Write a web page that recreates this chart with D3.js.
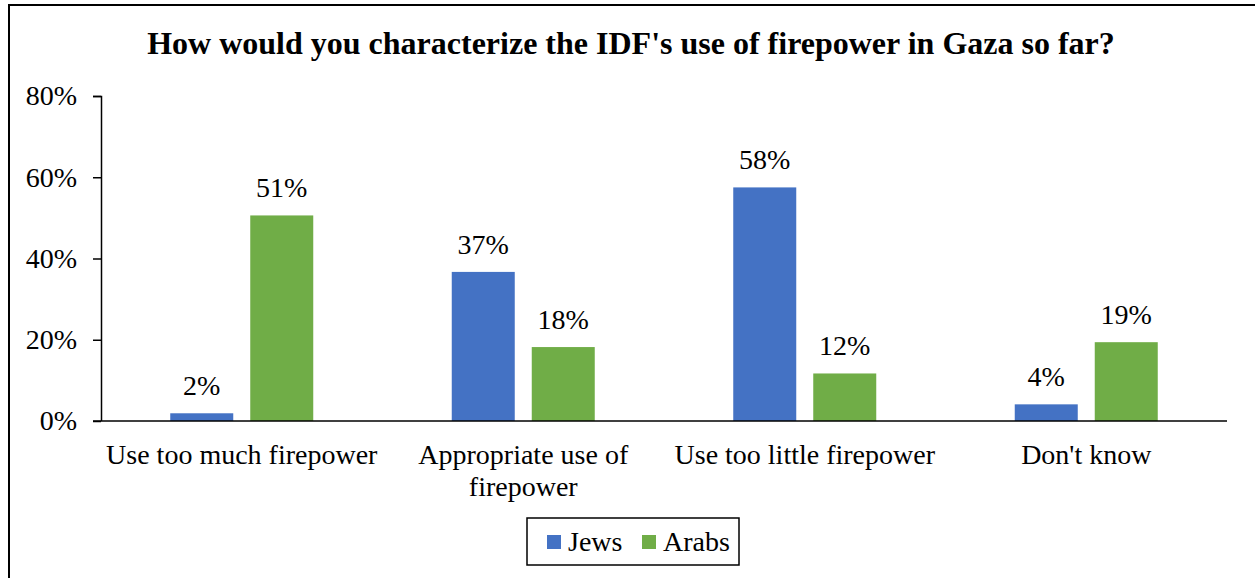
<!DOCTYPE html>
<html>
<head>
<meta charset="utf-8">
<script src="https://cdn.jsdelivr.net/npm/d3@7"></script>
<style>
  body { margin: 0; background: #fff; }
</style>
</head>
<body>
<div id="chart"></div>
<script>
// chart data
var categories = ["Use too much firepower", "Appropriate use of firepower", "Use too little firepower", "Don't know"];
var seriesNames = ["Jews", "Arabs"];
var jews = [1.9, 36.7, 57.5, 4.1];
var arabs = [50.6, 18.2, 11.7, 19.4];
var yTicks = [0, 20, 40, 60, 80];
var colors = ["#4472C4", "#70AD47"];

var FONT = "'Liberation Serif', 'Times New Roman', serif";

var svgWidth = 1255;
var svgHeight = 578;
var margin = { top: 96, right: 28, bottom: 157, left: 101 };
var width = svgWidth - margin.left - margin.right;
var height = svgHeight - margin.top - margin.bottom;

var svg = d3.select("#chart").append("svg")
  .attr("width", svgWidth)
  .attr("height", svgHeight)
  .style("font-family", FONT);

// outer frame (runs off the right and bottom edges)
svg.append("rect")
  .attr("x", 9).attr("y", 5)
  .attr("width", svgWidth + 10).attr("height", svgHeight + 10)
  .attr("fill", "none").attr("stroke", "#000").attr("stroke-width", 2);

svg.append("text")
  .attr("x", 631).attr("y", 54)
  .attr("text-anchor", "middle")
  .attr("font-size", 32).attr("font-weight", "bold")
  .style("font-family", FONT)
  .text("How would you characterize the IDF's use of firepower in Gaza so far?");

var chartGroup = svg.append("g")
  .attr("transform", `translate(${margin.left}, ${margin.top})`);

var x0 = d3.scaleBand().domain(categories).range([0, width]);
var y = d3.scaleLinear().domain([0, 80]).range([height, 0]);

var barW = 63, gap = 17;

// y axis
var yAxis = d3.axisLeft(y).tickValues(yTicks).tickFormat(d => d + "%").tickSize(8).tickPadding(16);
var yg = chartGroup.append("g").call(yAxis);
yg.attr("font-family", null).attr("font-size", null);
yg.select(".domain").attr("d", `M-8,0.5H0.5V${height}`).attr("stroke", "#000").attr("stroke-width", 1.5);
yg.selectAll(".tick line").attr("stroke", "#000").attr("stroke-width", 1.5);
yg.selectAll(".tick text").attr("font-size", 28).attr("fill", "#000").style("font-family", FONT);

var rows = categories.map((c, i) => ({ cat: c, vals: [jews[i], arabs[i]] }));

var groups = chartGroup.selectAll(".cat")
  .data(rows)
  .enter()
  .append("g")
  .attr("transform", d => `translate(${x0(d.cat) + x0.bandwidth() / 2}, 0)`);

groups.selectAll("rect")
  .data(d => d.vals)
  .enter()
  .append("rect")
  .attr("x", (d, i) => i === 0 ? -gap / 2 - barW : gap / 2)
  .attr("y", d => y(d))
  .attr("width", barW)
  .attr("height", d => height - y(d))
  .attr("fill", (d, i) => colors[i]);

groups.selectAll(".lbl")
  .data(d => d.vals)
  .enter()
  .append("text")
  .attr("class", "lbl")
  .attr("x", (d, i) => i === 0 ? -gap / 2 - barW / 2 : gap / 2 + barW / 2)
  .attr("y", d => y(d) - 18)
  .attr("text-anchor", "middle")
  .attr("font-size", 28)
  .style("font-family", FONT)
  .text(d => Math.round(d) + "%");

// x axis line
chartGroup.append("line")
  .attr("x1", -8).attr("x2", width)
  .attr("y1", height).attr("y2", height)
  .attr("stroke", "#000").attr("stroke-width", 1.5);

// category labels (wrapped)
var wrapped = {
  "Appropriate use of firepower": ["Appropriate use of", "firepower"]
};
groups.each(function(d) {
  var lines = wrapped[d.cat] || [d.cat];
  var t = d3.select(this).append("text")
    .attr("text-anchor", "middle")
    .attr("font-size", 28)
    .style("font-family", FONT)
    .attr("y", height + 43);
  lines.forEach(function(l, i) {
    t.append("tspan").attr("x", 0).attr("dy", i === 0 ? 0 : 32).text(l);
  });
});

// legend
var legend = svg.append("g").attr("transform", "translate(527, 518)");
legend.append("rect")
  .attr("width", 212).attr("height", 47)
  .attr("fill", "#fff").attr("stroke", "#000").attr("stroke-width", 1.5);
var items = legend.selectAll(".item")
  .data(seriesNames)
  .enter()
  .append("g")
  .attr("transform", (d, i) => `translate(${i === 0 ? 20 : 115}, 0)`);
items.append("rect")
  .attr("x", 0).attr("y", 17).attr("width", 14).attr("height", 14)
  .attr("fill", (d, i) => colors[i]);
items.append("text")
  .attr("x", 21).attr("y", 33)
  .attr("font-size", 28)
  .style("font-family", FONT)
  .text(d => d);
</script>
</body>
</html>
